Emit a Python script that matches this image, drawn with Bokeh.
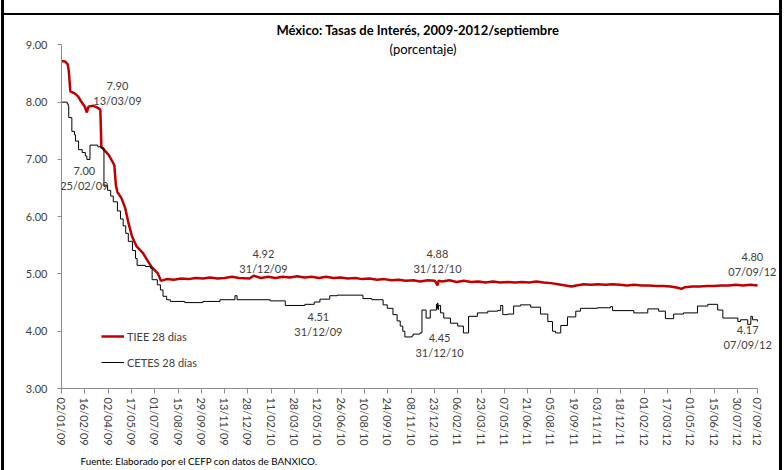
import pandas as pd
from bokeh.plotting import figure
from bokeh.models import (Range1d, FixedTicker, DatetimeTickFormatter, NumeralTickFormatter,
                          Legend, LegendItem, Label, Title)
from bokeh.embed import file_html
from bokeh.resources import INLINE

# ---------------- data ----------------
tiee_dates = ["2009-01-02", "2009-01-09", "2009-01-14", "2009-01-16", "2009-01-19", "2009-01-28",
              "2009-02-03", "2009-02-09", "2009-02-16", "2009-02-20", "2009-02-23", "2009-03-04",
              "2009-03-13", "2009-03-18", "2009-03-20", "2009-03-27", "2009-04-03", "2009-04-08",
              "2009-04-14", "2009-04-17", "2009-04-20", "2009-04-28", "2009-05-05", "2009-05-11",
              "2009-05-18", "2009-05-27", "2009-06-08", "2009-06-18", "2009-06-26", "2009-07-07",
              "2009-07-13", "2009-07-24", "2009-08-07", "2009-08-21", "2009-09-04", "2009-09-18",
              "2009-10-02", "2009-10-16", "2009-10-30", "2009-11-13", "2009-11-27", "2009-12-11",
              "2009-12-31", "2010-01-08", "2010-01-22", "2010-02-05", "2010-02-19", "2010-03-05",
              "2010-03-19", "2010-04-02", "2010-04-16", "2010-04-30", "2010-05-14", "2010-05-28",
              "2010-06-11", "2010-06-25", "2010-07-09", "2010-07-23", "2010-08-06", "2010-08-20",
              "2010-09-03", "2010-09-17", "2010-10-01", "2010-10-15", "2010-10-29", "2010-11-12",
              "2010-11-26", "2010-12-10", "2010-12-24", "2010-12-29", "2010-12-31", "2011-01-07",
              "2011-01-21", "2011-02-04", "2011-02-18", "2011-03-04", "2011-03-18", "2011-04-01",
              "2011-04-15", "2011-04-29", "2011-05-13", "2011-05-27", "2011-06-10", "2011-06-24",
              "2011-07-08", "2011-07-22", "2011-08-05", "2011-08-19", "2011-09-02", "2011-09-14",
              "2011-09-23", "2011-10-07", "2011-10-21", "2011-11-04", "2011-11-18", "2011-12-02",
              "2011-12-16", "2011-12-30", "2012-01-13", "2012-01-27", "2012-02-10", "2012-02-24",
              "2012-03-09", "2012-03-23", "2012-04-06", "2012-04-13", "2012-04-20", "2012-05-04",
              "2012-05-18", "2012-06-01", "2012-06-15", "2012-06-29", "2012-07-13", "2012-07-27",
              "2012-08-10", "2012-08-24", "2012-09-07"]
tiee_values = [8.72, 8.71, 8.66, 8.55, 8.19, 8.15,
               8.10, 8.01, 7.92, 7.82, 7.92, 7.94,
               7.90, 7.87, 7.22, 7.15, 7.08, 7.00,
               6.90, 6.55, 6.43, 6.32, 6.15, 5.90,
               5.66, 5.48, 5.37, 5.22, 5.11, 5.01,
               4.88, 4.91, 4.90, 4.92, 4.91, 4.93,
               4.92, 4.94, 4.92, 4.93, 4.95, 4.93,
               4.92, 4.97, 4.93, 4.95, 4.93, 4.95,
               4.94, 4.96, 4.94, 4.95, 4.93, 4.95,
               4.93, 4.94, 4.92, 4.93, 4.91, 4.92,
               4.90, 4.91, 4.89, 4.90, 4.88, 4.89,
               4.87, 4.89, 4.88, 4.80, 4.88, 4.87,
               4.89, 4.86, 4.88, 4.86, 4.87, 4.85,
               4.87, 4.85, 4.86, 4.85, 4.86, 4.85,
               4.87, 4.85, 4.84, 4.82, 4.80, 4.78,
               4.80, 4.82, 4.81, 4.82, 4.81, 4.82,
               4.81, 4.80, 4.81, 4.80, 4.80, 4.79,
               4.79, 4.78, 4.76, 4.74, 4.77, 4.78,
               4.78, 4.79, 4.79, 4.80, 4.80, 4.81,
               4.80, 4.81, 4.80]

cetes_dates = ["2009-01-02", "2009-01-13", "2009-01-15", "2009-01-16", "2009-01-22", "2009-01-27",
               "2009-01-29", "2009-02-04", "2009-02-11", "2009-02-17", "2009-02-20", "2009-02-26",
               "2009-03-13", "2009-03-19", "2009-03-25", "2009-04-01", "2009-04-07", "2009-04-12",
               "2009-04-20", "2009-04-26", "2009-05-01", "2009-05-06", "2009-05-11", "2009-05-19",
               "2009-05-25", "2009-05-28", "2009-06-13", "2009-06-23", "2009-06-26", "2009-07-06",
               "2009-07-12", "2009-07-17", "2009-07-24", "2009-07-31", "2009-08-28", "2009-10-02",
               "2009-11-04", "2009-12-03", "2009-12-07", "2010-02-09", "2010-03-10", "2010-04-17",
               "2010-05-05", "2010-05-16", "2010-06-04", "2010-06-18", "2010-08-07", "2010-08-24",
               "2010-09-15", "2010-09-23", "2010-10-04", "2010-10-12", "2010-10-18", "2010-10-23",
               "2010-10-27", "2010-11-10", "2010-11-12", "2010-11-25", "2010-11-29", "2010-12-07",
               "2010-12-15", "2010-12-27", "2010-12-28", "2010-12-29", "2010-12-30", "2010-12-31",
               "2011-01-04", "2011-01-10", "2011-01-23", "2011-02-06", "2011-02-17", "2011-02-27",
               "2011-03-16", "2011-04-05", "2011-04-24", "2011-04-30", "2011-05-04", "2011-05-13",
               "2011-05-25", "2011-06-07", "2011-06-27", "2011-07-16", "2011-07-30", "2011-08-08",
               "2011-08-14", "2011-08-24", "2011-09-06", "2011-09-22", "2011-10-01", "2011-11-03",
               "2011-11-28", "2011-12-02", "2012-01-12", "2012-02-08", "2012-02-29", "2012-03-13",
               "2012-03-29", "2012-04-17", "2012-05-14", "2012-06-03", "2012-06-22", "2012-07-02",
               "2012-07-31", "2012-08-05", "2012-08-19", "2012-08-25", "2012-08-28", "2012-09-07"]
cetes_values = [8.00, 7.97, 7.93, 7.73, 7.49, 7.43,
                7.32, 7.17, 7.12, 7.06, 7.00, 7.25,
                7.22, 7.20, 6.55, 6.46, 6.36, 6.26,
                6.10, 5.96, 5.84, 5.71, 5.57, 5.41,
                5.27, 5.15, 5.13, 5.10, 4.90, 4.81,
                4.72, 4.61, 4.55, 4.52, 4.50, 4.52,
                4.55, 4.62, 4.55, 4.53, 4.45, 4.47,
                4.51, 4.56, 4.62, 4.63, 4.57, 4.55,
                4.46, 4.40, 4.29, 4.18, 4.09, 4.00,
                3.90, 3.92, 3.95, 3.97, 4.37, 4.23,
                4.37, 4.47, 4.40, 4.49, 4.38, 4.45,
                4.32, 4.23, 4.14, 4.09, 3.97, 4.26,
                4.32, 4.35, 4.36, 4.45, 4.29, 4.30,
                4.44, 4.46, 4.42, 4.30, 4.17, 4.00,
                3.97, 4.10, 4.25, 4.35, 4.40, 4.41,
                4.43, 4.36, 4.32, 4.39, 4.35, 4.22,
                4.30, 4.32, 4.44, 4.47, 4.37, 4.23,
                4.17, 4.20, 4.12, 4.26, 4.20, 4.17]

x_tick_labels = ["02/01/09", "16/02/09", "02/04/09", "17/05/09", "01/07/09", "15/08/09", "29/09/09",
                 "13/11/09", "28/12/09", "11/02/10", "28/03/10", "12/05/10", "26/06/10", "10/08/10",
                 "24/09/10", "08/11/10", "23/12/10", "06/02/11", "23/03/11", "07/05/11", "21/06/11",
                 "05/08/11", "19/09/11", "03/11/11", "18/12/11", "01/02/12", "17/03/12", "01/05/12",
                 "15/06/12", "30/07/12", "07/09/12"]
y_ticks = [3, 4, 5, 6, 7, 8, 9]
axis_start, axis_end = "2009-01-02", "2012-09-07"

# annotation texts and where their centres sit (date, value)
ann_texts = ["7.90\n13/03/09", "7.00\n25/02/09", "4.92\n31/12/09", "4.51\n31/12/09",
             "4.88\n31/12/10", "4.45\n31/12/10", "4.80\n07/09/12", "4.17\n07/09/12"]
ann_x = ["2009-04-20", "2009-02-15", "2010-01-27", "2010-05-13",
         "2010-12-29", "2011-01-02", "2012-08-28", "2012-08-19"]
ann_y = [8.16, 6.67, 5.23, 4.13, 5.23, 3.76, 5.17, 3.90]

title_text = "México: Tasas de Interés, 2009-2012/septiembre"
subtitle_text = "(porcentaje)"
source_text = "Fuente: Elaborado por el CEFP con datos de BANXICO."


def ms(s):
    return pd.Timestamp(s).value / 1e6


FONT = "Lato"
TXT = "#404040"

tiee_x = pd.to_datetime(tiee_dates)
cetes_x = pd.to_datetime(cetes_dates)
tick_ms = [pd.Timestamp(pd.to_datetime(t, format="%d/%m/%y")).value / 1e6 for t in x_tick_labels]

# frame reaches the top and right edges so that texts there are not clipped;
# the axes themselves are limited to the data span with `bounds`
p = figure(width=784, height=470, x_axis_type="datetime", output_backend="svg",
           toolbar_location=None, x_range=Range1d(ms(axis_start), ms("2012-10-29")),
           y_range=Range1d(3, 9.775), min_border_left=61, min_border_right=0,
           min_border_top=0, min_border_bottom=79)
p.title = None
p.outline_line_color = None
p.xgrid.visible = False
p.ygrid.visible = False
p.background_fill_alpha = 0
p.border_fill_alpha = 0
# outer black frame of the original picture (left, top, right)
p.styles = {"box-shadow": ("inset 1px 0 0 0 white, inset 4px 0 0 0 black, "
                           "inset -2px 0 0 0 white, inset -5px 0 0 0 black, "
                           "inset 0 13px 0 0 white, inset 0 15px 0 0 black")}

r_tiee = p.line(tiee_x, tiee_values, line_color="#C00000", line_width=2.5)
r_cetes = p.step(cetes_x, cetes_values, mode="after", line_color="black", line_width=1)

# axes
p.xaxis.ticker = FixedTicker(ticks=tick_ms)
p.xaxis.formatter = DatetimeTickFormatter(
    microseconds="%d/%m/%y", milliseconds="%d/%m/%y", seconds="%d/%m/%y", minsec="%d/%m/%y",
    minutes="%d/%m/%y", hourmin="%d/%m/%y", hours="%d/%m/%y", days="%d/%m/%y",
    months="%d/%m/%y", years="%d/%m/%y")
p.xaxis.major_label_orientation = "vertical"
p.xaxis.bounds = (ms(axis_start), ms(axis_end))
p.yaxis.ticker = FixedTicker(ticks=y_ticks)
p.yaxis.formatter = NumeralTickFormatter(format="0.00")
p.yaxis.bounds = (y_ticks[0], y_ticks[-1])
for ax in (p.xaxis[0], p.yaxis[0]):
    ax.axis_line_color = "#8c8c8c"
    ax.major_tick_line_color = "#8c8c8c"
    ax.minor_tick_line_color = None
    ax.major_tick_in = 0
    ax.major_label_text_font = FONT
    ax.major_label_text_font_size = "11px"
    ax.major_label_text_color = TXT
p.xaxis.major_tick_out = 5
p.xaxis.major_label_standoff = 4
p.yaxis.major_tick_out = 4
p.yaxis.major_label_standoff = 10

legend = Legend(items=[LegendItem(label="TIEE 28 días", renderers=[r_tiee]),
                       LegendItem(label="CETES 28 días", renderers=[r_cetes])],
                location=(40, 16), border_line_color=None, background_fill_alpha=0,
                padding=0, margin=0, spacing=6, glyph_width=23, glyph_height=20,
                label_height=20, label_standoff=3, label_text_font=FONT,
                label_text_font_size="11px", label_text_color=TXT)
p.add_layout(legend)

for t, xd, yv in zip(ann_texts, ann_x, ann_y):
    p.add_layout(Label(x=ms(xd), y=yv, text=t, text_align="center", text_baseline="middle",
                       text_font=FONT, text_font_size="11px", text_color=TXT,
                       text_line_height=1.15))

p.add_layout(Label(x=ms("2010-11-21"), y=9.255, text=title_text, text_align="center",
                   text_baseline="middle", text_font=FONT, text_font_size="13px",
                   text_font_style="bold", text_color="black"))
p.add_layout(Label(x=ms("2010-12-01"), y=8.925, text=subtitle_text, text_align="center",
                   text_baseline="middle", text_font=FONT, text_font_size="13px",
                   text_color="black"))

p.add_layout(Title(text=source_text, align="left", offset=19, standoff=8,
                   text_font=FONT, text_font_size="9.8px", text_font_style="normal",
                   text_color="black"), "below")

open("out.html", "w").write(file_html(p, INLINE))
